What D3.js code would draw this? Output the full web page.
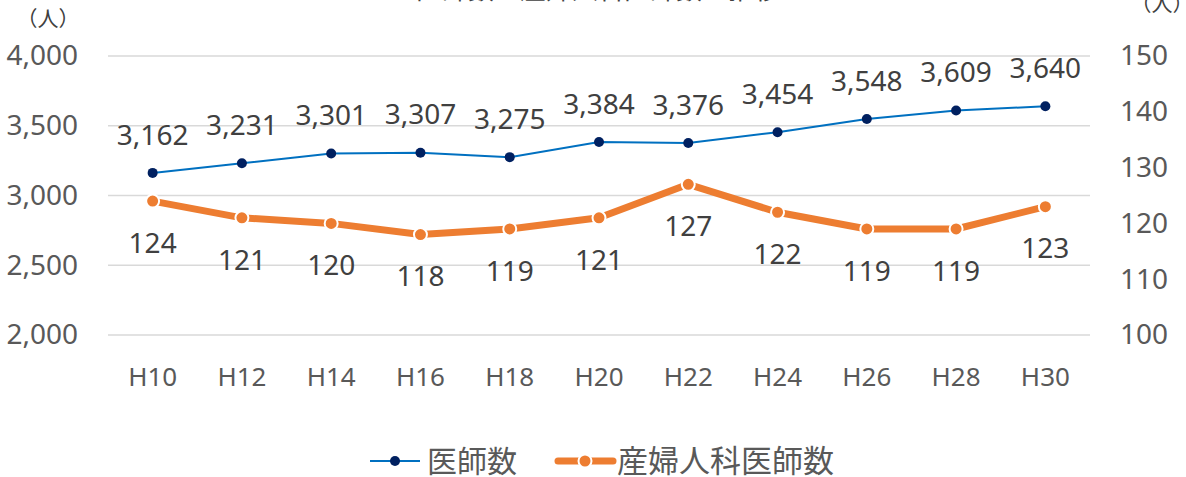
<!DOCTYPE html>
<html>
<head>
<meta charset="utf-8">
<script src="https://cdn.jsdelivr.net/npm/d3@7"></script>
<style>
  body { margin: 0; background: #fff; }
  svg { display: block; font-family: "Noto Sans", "Noto Sans CJK JP", sans-serif; }
</style>
</head>
<body>
<svg id="chart" width="1186" height="477"></svg>
<script>
const categories = ['H10', 'H12', 'H14', 'H16', 'H18', 'H20', 'H22', 'H24', 'H26', 'H28', 'H30'];
const doctors = [3162, 3231, 3301, 3307, 3275, 3384, 3376, 3454, 3548, 3609, 3640];
const obgyn = [124, 121, 120, 118, 119, 121, 127, 122, 119, 119, 123];
const leftTicks = [2000, 2500, 3000, 3500, 4000];
const rightTicks = [100, 110, 120, 130, 140, 150];

const COLORS = {
    blueLine: '#0070C0',
    blueDot: '#002060',
    orange: '#ED7D31',
    grid: '#D9D9D9',
    tick: '#595959',
    label: '#404040',
};

const svg = d3.select('#chart');
const plot = { left: 108, right: 1090, top: 56, bottom: 335 };

const x = d3.scaleBand()
    .domain(categories)
    .range([plot.left, plot.right]);
const yL = d3.scaleLinear().domain([2000, 4000]).range([plot.bottom, plot.top]);
const yR = d3.scaleLinear().domain([100, 150]).range([plot.bottom, plot.top]);
const cx = (d, i) => x(categories[i]) + x.bandwidth() / 2;
const fmt = d3.format(',');
const JP = '"Noto Sans CJK JP", sans-serif';

// title, mostly cut off by the top edge
svg.append('text')
    .attr('x', 598).attr('y', -1)
    .attr('text-anchor', 'middle')
    .style('font-family', JP)
    .style('font-size', '26px')
    .attr('fill', COLORS.label)
    .text('医師数・産婦人科医師数の推移');

// gridlines
svg.append('g')
    .selectAll('line')
    .data(leftTicks)
    .join('line')
    .attr('x1', plot.left).attr('x2', plot.right)
    .attr('y1', (d) => yL(d)).attr('y2', (d) => yL(d))
    .attr('stroke', COLORS.grid)
    .attr('stroke-width', 1.3);

// left axis
svg.append('g')
    .attr('transform', `translate(${plot.left - 30},0)`)
    .call(d3.axisLeft(yL).tickValues(leftTicks).tickFormat(fmt).tickSize(0).tickPadding(0))
    .call((g) => g.select('.domain').remove())
    .selectAll('text')
    .attr('fill', COLORS.tick)
    .style('font-family', '"Noto Sans"')
    .style('font-size', '28px');

// right axis
svg.append('g')
    .attr('transform', `translate(${plot.right + 30},0)`)
    .call(d3.axisRight(yR).tickValues(rightTicks).tickSize(0).tickPadding(0))
    .call((g) => g.select('.domain').remove())
    .selectAll('text')
    .attr('fill', COLORS.tick)
    .style('font-family', '"Noto Sans"')
    .style('font-size', '28px');

// bottom axis
svg.append('g')
    .attr('transform', `translate(0,${plot.bottom + 42})`)
    .call(d3.axisBottom(x).tickSize(0).tickPadding(0))
    .call((g) => g.select('.domain').remove())
    .selectAll('text')
    .attr('dy', '0.35em')
    .attr('fill', COLORS.tick)
    .style('font-family', '"Noto Sans"')
    .style('font-size', '26px');

// unit labels
svg.append('text').attr('x', 48).attr('y', 26).attr('text-anchor', 'middle')
    .style('font-family', JP).style('font-size', '21px')
    .attr('fill', COLORS.label).text('（人）');
svg.append('text').attr('x', 1162).attr('y', 11).attr('text-anchor', 'middle')
    .style('font-family', JP).style('font-size', '21px')
    .attr('fill', COLORS.label).text('（人）');

// orange series (right axis)
const lineR = d3.line().x(cx).y((d) => yR(d));
svg.append('path')
    .datum(obgyn)
    .attr('d', lineR)
    .attr('fill', 'none')
    .attr('stroke', COLORS.orange)
    .attr('stroke-width', 7)
    .attr('stroke-linejoin', 'round');
svg.append('g').selectAll('circle')
    .data(obgyn)
    .join('circle')
    .attr('cx', cx).attr('cy', (d) => yR(d))
    .attr('r', 6.5)
    .attr('fill', COLORS.orange)
    .attr('stroke', '#fff').attr('stroke-width', 2);
svg.append('g').selectAll('text')
    .data(obgyn)
    .join('text')
    .attr('x', cx).attr('y', (d) => yR(d) + 42)
    .attr('dy', '0.35em')
    .attr('text-anchor', 'middle')
    .attr('fill', COLORS.label)
    .style('font-size', '28px')
    .text((d) => d);

// blue series (left axis)
const lineL = d3.line().x(cx).y((d) => yL(d));
svg.append('path')
    .datum(doctors)
    .attr('d', lineL)
    .attr('fill', 'none')
    .attr('stroke', COLORS.blueLine)
    .attr('stroke-width', 2);
svg.append('g').selectAll('circle')
    .data(doctors)
    .join('circle')
    .attr('cx', cx).attr('cy', (d) => yL(d))
    .attr('r', 5)
    .attr('fill', COLORS.blueDot);
svg.append('g').selectAll('text')
    .data(doctors)
    .join('text')
    .attr('x', cx).attr('y', (d) => yL(d) - 38)
    .attr('dy', '0.35em')
    .attr('text-anchor', 'middle')
    .attr('fill', COLORS.label)
    .style('font-size', '28px')
    .text((d) => fmt(d));

// legend
const legend = svg.append('g').attr('transform', 'translate(0,461)');
legend.append('line').attr('x1', 370).attr('x2', 420).attr('y1', 0).attr('y2', 0)
    .attr('stroke', COLORS.blueLine).attr('stroke-width', 2);
legend.append('circle').attr('cx', 395).attr('cy', 0).attr('r', 5).attr('fill', COLORS.blueDot);
legend.append('text').attr('x', 427).attr('y', 0).attr('dy', '0.35em')
    .style('font-family', JP).style('font-size', '30px')
    .attr('fill', COLORS.tick).text('医師数');
legend.append('line').attr('x1', 558).attr('x2', 613).attr('y1', 0).attr('y2', 0)
    .attr('stroke', COLORS.orange).attr('stroke-width', 7).attr('stroke-linecap', 'round');
legend.append('circle').attr('cx', 585).attr('cy', 0).attr('r', 6.5)
    .attr('fill', COLORS.orange).attr('stroke', '#fff').attr('stroke-width', 2);
legend.append('text').attr('x', 617).attr('y', 0).attr('dy', '0.35em')
    .style('font-family', JP).style('font-size', '31px')
    .attr('fill', COLORS.tick).text('産婦人科医師数');
</script>
</body>
</html>
